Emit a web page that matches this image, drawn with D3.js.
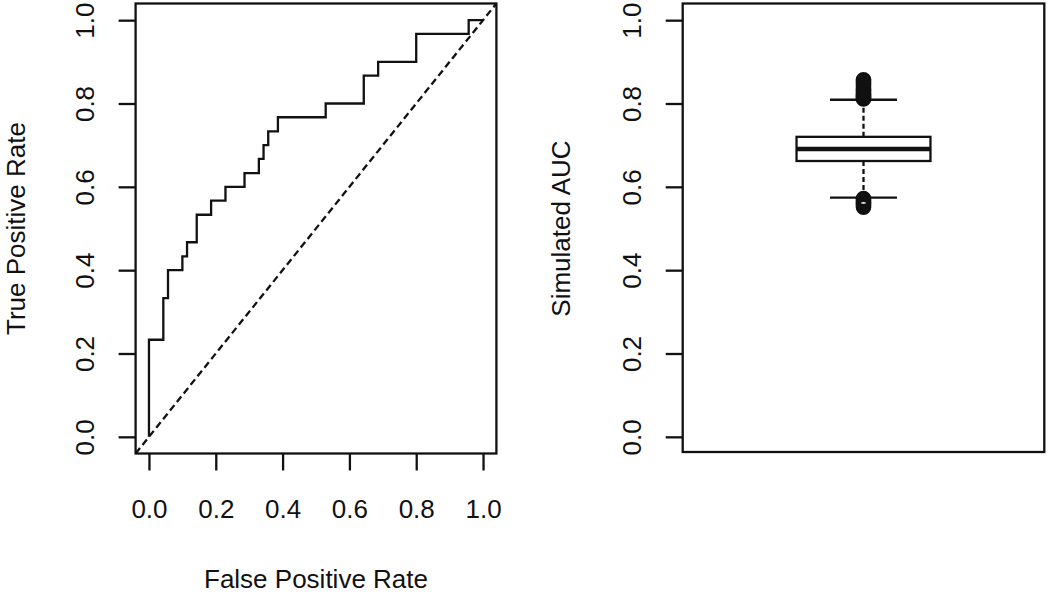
<!DOCTYPE html>
<html>
<head>
<meta charset="utf-8">
<script src="https://cdn.jsdelivr.net/npm/d3@7"></script>
<style>
  html, body { margin: 0; padding: 0; background: #fff; }
  svg { display: block; }
  text { font-family: "Liberation Sans", Arial, Helvetica, sans-serif; fill: #111; }
</style>
</head>
<body>
<svg id="chart" width="1050" height="599"></svg>
<script>
// ---- data ----
// ROC curve corner points (step after)
const fpr = [0, 0, 0.043, 0.057, 0.1, 0.114, 0.143, 0.186, 0.229, 0.286, 0.329, 0.343, 0.357, 0.386, 0.529, 0.643, 0.686, 0.8, 0.957, 1];
const tpr = [0, 0.233, 0.333, 0.4, 0.433, 0.467, 0.533, 0.567, 0.6, 0.633, 0.667, 0.7, 0.733, 0.767, 0.8, 0.867, 0.9, 0.967, 1, 1];
const axisTicks = [0, 0.2, 0.4, 0.6, 0.8, 1.0];

// Simulated AUC boxplot summary
const boxStats = { lowerWhisker: 0.574, q1: 0.662, median: 0.691, q3: 0.720, upperWhisker: 0.809 };
const upperOutliers = [0.811, 0.813, 0.815, 0.817, 0.819, 0.822, 0.825, 0.828, 0.831, 0.835, 0.839, 0.843, 0.848, 0.853, 0.857];
const lowerOutliers = [0.572, 0.569, 0.566, 0.563, 0.560, 0.557, 0.554, 0.551];

const labels = { x1: "False Positive Rate", y1: "True Positive Rate", y2: "Simulated AUC" };

// ---- drawing ----
(function () {
const svg = d3.select("#chart");
const FS = 26;
const LW = 2.3;
const fmt = d3.format(".1f");

const yTop = 3.5, yBottom = 453.5;
const y = d3.scaleLinear().domain([-0.04, 1.04]).range([yBottom, yTop]);

function yAxis(g, xPos) {
  const ax = g.append("g").attr("transform", `translate(${xPos},0)`)
    .call(d3.axisLeft(y).tickValues(axisTicks).tickFormat(fmt).tickSize(17));
  ax.select(".domain").remove();
  ax.selectAll(".tick line").attr("stroke", "#111").attr("stroke-width", LW);
  ax.selectAll(".tick text")
    .attr("x", null).attr("dy", null).attr("y", 0)
    .attr("text-anchor", "middle")
    .attr("transform", "translate(-42,0) rotate(-90)")
    .style("font-size", FS + "px")
    .attr("fill", "#111");
  ax.attr("font-family", null).attr("font-size", null);
}

// Left panel: ROC
const x1 = d3.scaleLinear().domain([-0.04, 1.04]).range([135.6, 496.4]);
const left = svg.append("g");

const rocData = fpr.map((f, i) => [f, tpr[i]]);
left.append("path")
  .datum(rocData)
  .attr("fill", "none")
  .attr("stroke", "#111")
  .attr("stroke-width", LW)
  .attr("stroke-linejoin", "miter")
  .attr("d", d3.line().x(d => x1(d[0])).y(d => y(d[1])).curve(d3.curveStepAfter));

left.append("line")
  .attr("x1", x1(-0.04)).attr("y1", y(-0.04))
  .attr("x2", x1(1.04)).attr("y2", y(1.04))
  .attr("stroke", "#111").attr("stroke-width", LW)
  .attr("stroke-dasharray", "7,4");

left.append("rect")
  .attr("x", x1(-0.04)).attr("y", yTop)
  .attr("width", x1(1.04) - x1(-0.04)).attr("height", yBottom - yTop)
  .attr("fill", "none").attr("stroke", "#111").attr("stroke-width", LW);

const xa = left.append("g").attr("transform", `translate(0,${yBottom})`)
  .call(d3.axisBottom(x1).tickValues(axisTicks).tickFormat(fmt).tickSize(17));
xa.select(".domain").remove();
xa.selectAll(".tick line").attr("stroke", "#111").attr("stroke-width", LW);
xa.selectAll(".tick text").attr("y", 64.5).attr("dy", null)
  .style("font-size", FS + "px").attr("fill", "#111");
xa.attr("font-family", null).attr("font-size", null);

yAxis(left, x1(-0.04));

left.append("text")
  .attr("x", (x1(-0.04) + x1(1.04)) / 2).attr("y", 588)
  .attr("text-anchor", "middle").style("font-size", FS + "px")
  .text(labels.x1);
left.append("text")
  .attr("transform", `translate(25,${(yTop + yBottom) / 2}) rotate(-90)`)
  .attr("text-anchor", "middle").style("font-size", FS + "px")
  .text(labels.y1);

// Right panel: boxplot
const x2 = d3.scaleLinear().domain([0.46, 1.54]).range([682.7, 1044.3]);
const right = svg.append("g");

right.append("rect")
  .attr("x", x2(0.46)).attr("y", yTop)
  .attr("width", x2(1.54) - x2(0.46)).attr("height", yBottom - 1.5 - yTop)
  .attr("fill", "none").attr("stroke", "#111").attr("stroke-width", LW);

// whiskers
right.append("line")
  .attr("x1", x2(1)).attr("x2", x2(1))
  .attr("y1", y(boxStats.q3)).attr("y2", y(boxStats.upperWhisker))
  .attr("stroke", "#111").attr("stroke-width", LW).attr("stroke-dasharray", "5,3");
right.append("line")
  .attr("x1", x2(1)).attr("x2", x2(1))
  .attr("y1", y(boxStats.q1)).attr("y2", y(boxStats.lowerWhisker))
  .attr("stroke", "#111").attr("stroke-width", LW).attr("stroke-dasharray", "5,3");
// caps
[boxStats.upperWhisker, boxStats.lowerWhisker].forEach(v => {
  right.append("line")
    .attr("x1", x2(0.9)).attr("x2", x2(1.1))
    .attr("y1", y(v)).attr("y2", y(v))
    .attr("stroke", "#111").attr("stroke-width", LW);
});
// box
right.append("rect")
  .attr("x", x2(0.8)).attr("y", y(boxStats.q3))
  .attr("width", x2(1.2) - x2(0.8)).attr("height", y(boxStats.q1) - y(boxStats.q3))
  .attr("fill", "#fff").attr("stroke", "#111").attr("stroke-width", LW);
// median
right.append("line")
  .attr("x1", x2(0.8)).attr("x2", x2(1.2))
  .attr("y1", y(boxStats.median)).attr("y2", y(boxStats.median))
  .attr("stroke", "#111").attr("stroke-width", 4.5);
// outliers
right.selectAll("circle.out")
  .data(upperOutliers.concat(lowerOutliers))
  .enter().append("circle")
  .attr("class", "out")
  .attr("cx", x2(1)).attr("cy", d => y(d)).attr("r", 6.5)
  .attr("fill", "none").attr("stroke", "#111").attr("stroke-width", 2.6);

yAxis(right, x2(0.46));

right.append("text")
  .attr("transform", `translate(570,${(yTop + yBottom) / 2}) rotate(-90)`)
  .attr("text-anchor", "middle").style("font-size", FS + "px")
  .text(labels.y2);
})();
</script>
</body>
</html>
